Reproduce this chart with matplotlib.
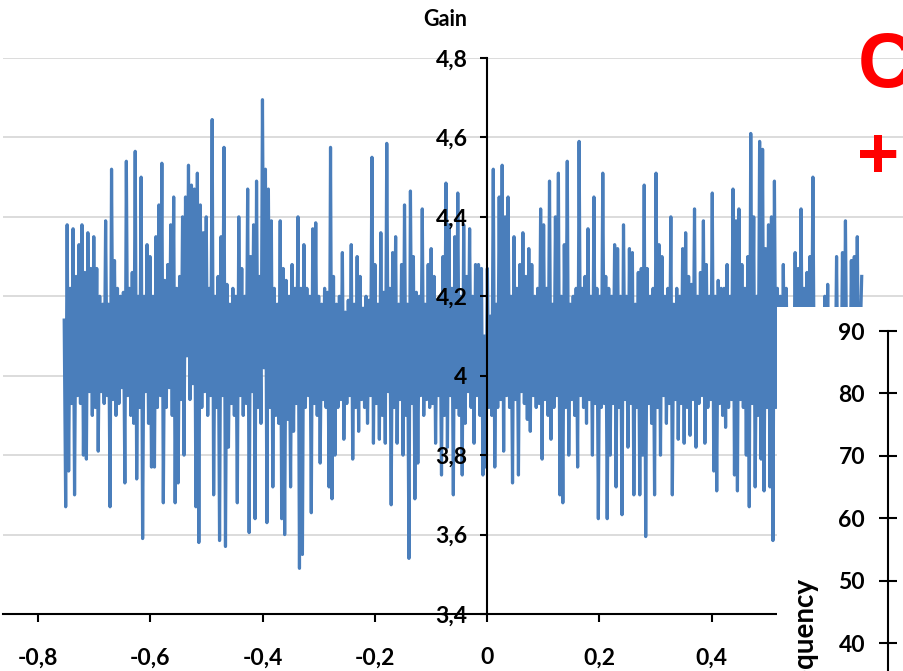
import numpy as np
import matplotlib.pyplot as plt

# gain trace, sampled evenly from the first to the last sweep position
x_first = -0.7533
x_last = 0.6673
gain = [
    4.14, 3.67, 4.38, 3.76, 4.22, 3.93, 4.37, 3.70, 4.25, 3.95, 4.33, 3.93, 4.38, 3.80, 4.26, 3.79, 4.36, 3.96, 4.27, 3.90,
    4.35, 3.92, 4.27, 3.81, 4.20, 3.96, 4.18, 3.93, 4.39, 3.95, 4.18, 3.67, 4.52, 3.94, 4.29, 3.90, 4.22, 3.93, 4.20, 3.97,
    4.21, 3.73, 4.54, 3.95, 4.22, 3.90, 4.26, 3.88, 4.565, 3.74, 4.20, 3.92, 4.50, 3.59, 4.20, 3.96, 4.33, 3.88, 4.30, 3.77,
    4.20, 3.77, 4.35, 3.92, 4.43, 3.95, 4.535, 3.68, 4.24, 3.92, 4.28, 3.97, 4.38, 3.90, 4.45, 3.68, 4.22, 3.73, 4.25, 3.94,
    4.40, 3.80, 4.45, 4.05, 4.53, 3.94, 4.48, 3.98, 4.47, 3.67, 4.51, 3.58, 4.43, 3.92, 4.36, 3.96, 4.40, 3.90, 4.22, 3.95,
    4.645, 3.70, 4.20, 3.92, 4.25, 3.585, 4.35, 3.95, 4.575, 3.57, 4.23, 3.82, 4.18, 3.93, 4.22, 3.90, 4.20, 3.68, 4.40, 3.95,
    4.27, 3.90, 4.20, 3.93, 4.47, 3.605, 4.30, 3.96, 4.38, 3.64, 4.49, 3.92, 4.25, 3.88, 4.695, 4.02, 4.52, 3.63, 4.47, 3.92,
    4.39, 3.72, 4.22, 3.90, 4.18, 3.88, 4.39, 3.64, 4.27, 3.60, 4.24, 3.89, 4.20, 3.72, 4.28, 3.86, 4.22, 3.93, 4.40, 3.515,
    4.22, 3.55, 4.33, 3.92, 4.22, 3.95, 4.20, 3.655, 4.37, 3.93, 4.385, 3.90, 4.20, 3.78, 4.18, 3.94, 4.22, 3.92, 4.21, 3.72,
    4.575, 3.69, 4.25, 3.80, 4.18, 3.92, 4.20, 3.94, 4.31, 3.84, 4.16, 3.93, 4.19, 3.95, 4.33, 3.79, 4.18, 3.92, 4.30, 3.86,
    4.25, 3.94, 4.17, 3.92, 4.20, 3.88, 4.19, 3.95, 4.55, 3.83, 4.28, 3.93, 4.18, 3.84, 4.36, 3.90, 4.21, 3.83, 4.585, 3.96,
    4.22, 3.675, 4.31, 3.92, 4.35, 3.83, 4.18, 3.94, 4.28, 3.80, 4.43, 3.90, 4.18, 3.54, 4.465, 3.93, 4.30, 3.69, 4.21, 3.78,
    4.20, 3.95, 4.42, 3.90, 4.18, 3.94, 4.28, 3.92, 4.32, 3.93, 4.25, 3.83, 4.19, 3.95, 4.20, 3.75, 4.30, 3.90, 4.485, 3.82,
    4.38, 3.95, 4.22, 3.70, 4.35, 3.92, 4.46, 3.90, 4.20, 3.75, 4.38, 3.88, 4.25, 3.96, 4.37, 3.92, 4.20, 3.83, 4.28, 3.95,
    4.28, 3.90, 4.27, 3.75, 4.10, 3.77, 4.27, 3.92, 4.15, 3.90, 4.52, 3.77, 4.18, 3.92, 4.45, 3.94, 4.53, 3.81, 4.40, 3.95,
    4.45, 3.92, 4.20, 3.73, 4.35, 3.94, 4.22, 3.75, 4.28, 3.96, 4.36, 3.93, 4.25, 3.89, 4.32, 3.86, 4.28, 3.95, 4.20, 3.92,
    4.22, 3.93, 4.42, 3.79, 4.38, 3.94, 4.22, 3.90, 4.49, 3.84, 4.18, 3.92, 4.40, 3.95, 4.51, 3.70, 4.20, 3.68, 4.33, 3.92,
    4.54, 3.80, 4.18, 3.94, 4.20, 3.90, 4.22, 3.77, 4.59, 3.95, 4.22, 3.92, 4.25, 3.88, 4.37, 3.94, 4.20, 3.80, 4.45, 3.93,
    4.22, 3.64, 4.20, 3.92, 4.51, 3.93, 4.25, 3.64, 4.22, 3.80, 4.20, 3.93, 4.33, 3.72, 4.32, 3.92, 4.20, 3.65, 4.38, 3.94,
    4.20, 3.82, 4.32, 3.93, 4.31, 3.70, 4.18, 3.92, 4.26, 3.70, 4.27, 3.80, 4.48, 3.595, 4.27, 3.93, 4.20, 3.88, 4.22, 3.70,
    4.51, 3.92, 4.33, 3.80, 4.30, 3.95, 4.20, 3.88, 4.22, 3.93, 4.40, 3.70, 4.18, 3.94, 4.22, 3.84, 4.20, 3.93, 4.32, 3.83,
    4.36, 3.92, 4.25, 3.85, 4.23, 3.94, 4.42, 3.82, 4.20, 3.93, 4.26, 3.95, 4.39, 3.83, 4.28, 3.92, 4.20, 3.94, 4.46, 3.76,
    4.20, 3.71, 4.24, 3.93, 4.22, 3.90, 4.22, 3.87, 4.28, 3.92, 4.20, 3.94, 4.47, 3.75, 4.39, 3.71, 4.42, 3.94, 4.28, 3.92,
    4.22, 3.80, 4.30, 3.67, 4.61, 3.93, 4.40, 3.72, 4.20, 3.90, 4.59, 3.79, 4.57, 3.71, 4.32, 3.92, 4.38, 3.72, 4.40, 3.585,
    4.49, 3.92, 4.22, 3.95, 4.20, 3.90, 4.28, 3.94, 4.22, 3.93, 4.12, 3.92, 4.16, 3.92, 4.31, 3.95, 4.27, 3.90, 4.42, 3.93,
    4.22, 3.95, 4.26, 3.90, 4.30, 3.94, 4.50, 3.92, 4.12, 3.95, 4.10, 3.93, 4.12, 3.90, 4.20, 3.94, 4.23, 3.92, 4.14, 3.96,
    4.12, 3.93, 4.30, 3.92, 4.14, 3.95, 4.31, 3.90, 4.39, 3.94, 4.12, 3.92, 4.29, 3.95, 4.30, 3.93, 4.35, 3.93, 4.10, 4.25,
]

y_ticks = [3.4, 3.6, 3.8, 4.0, 4.2, 4.4, 4.6, 4.8]
y_labels = ["3,4", "3,6", "3,8", "4", "4,2", "4,4", "4,6", "4,8"]
x_ticks = [-0.8, -0.6, -0.4, -0.2, 0.0, 0.2, 0.4]
x_labels = ["-0,8", "-0,6", "-0,4", "-0,2", "0", "0,2", "0,4"]
freq_ticks = [40, 50, 60, 70, 80, 90]

plt.rcParams["font.family"] = ["Lato", "DejaVu Sans"]
plt.rcParams["font.weight"] = "bold"

W, H = 904, 671
LINE = "#4A7EBB"
GRID = "#D9D9D9"


def px_box(x0, y0, x1, y1):
    # pixel box (top-left origin) -> figure fraction [left, bottom, width, height]
    return [x0 / W, 1 - y1 / H, (x1 - x0) / W, (y1 - y0) / H]


fig = plt.figure(figsize=(W / 100, H / 100), dpi=100)

# === MAIN GAIN PANEL ===
ax = fig.add_axes(px_box(3, 58, 1048.5, 614))
ax.set_xlim(-0.8623, 1.0)
ax.set_ylim(3.4, 4.8)
ax.set_axisbelow(False)

for t in y_ticks[1:]:
    ax.axhline(t, color=GRID, lw=1.3, zorder=0.5)

x = np.linspace(x_first, x_last, len(gain))
ax.plot(x, gain, color=LINE, lw=2.3, zorder=2)

for side in ["top", "right"]:
    ax.spines[side].set_visible(False)
ax.spines["left"].set_position(("data", 0))
ax.spines["left"].set_linewidth(1.5)
ax.spines["bottom"].set_linewidth(1.5)

ax.set_xticks(x_ticks)
ax.set_xticklabels(x_labels)
ax.set_yticks(y_ticks)
ax.set_yticklabels(y_labels)
ax.tick_params(axis="x", direction="out", length=6, width=1.5, pad=18, labelsize=16.5)
ax.tick_params(axis="y", direction="out", length=5, width=1.5, pad=9, labelsize=16.5)

fig.text(445 / W, 1 - 19 / H, "Gain", ha="center", va="center", fontsize=15.5)

# === FREQUENCY INSET ===
ax_in = fig.add_axes(px_box(777, 307, 1000, 700))
ax_in.set_facecolor("white")
ax_in.set_zorder(5)
ax_in.set_ylim(30.87, 93.85)
ax_in.set_xlim(0, 1)
for side in ["top", "right", "bottom"]:
    ax_in.spines[side].set_visible(False)
ax_in.spines["left"].set_position(("axes", 111 / 223))
ax_in.spines["left"].set_bounds(30, 90)
ax_in.spines["left"].set_linewidth(1.5)
ax_in.set_xticks([])
ax_in.set_yticks(freq_ticks)
ax_in.set_yticklabels([str(v) for v in freq_ticks])
ax_in.tick_params(axis="y", direction="inout", length=13, width=1.5, pad=10, labelsize=16.5)

fig.text(804 / W, 1 - 576 / H, "Frequency", rotation=90, ha="center", va="top",
         fontsize=20, zorder=6)

# panel markers
fig.text(858 / W, 1 - 87 / H, "C", ha="left", va="baseline", color="red",
         fontsize=56, fontweight="bold", family="Liberation Sans")
fig.text(857 / W, 1 - 159 / H, "+", ha="left", va="center", color="red",
         fontsize=52, fontweight="bold", family="Liberation Sans")

fig.savefig("out.png", dpi=100)
